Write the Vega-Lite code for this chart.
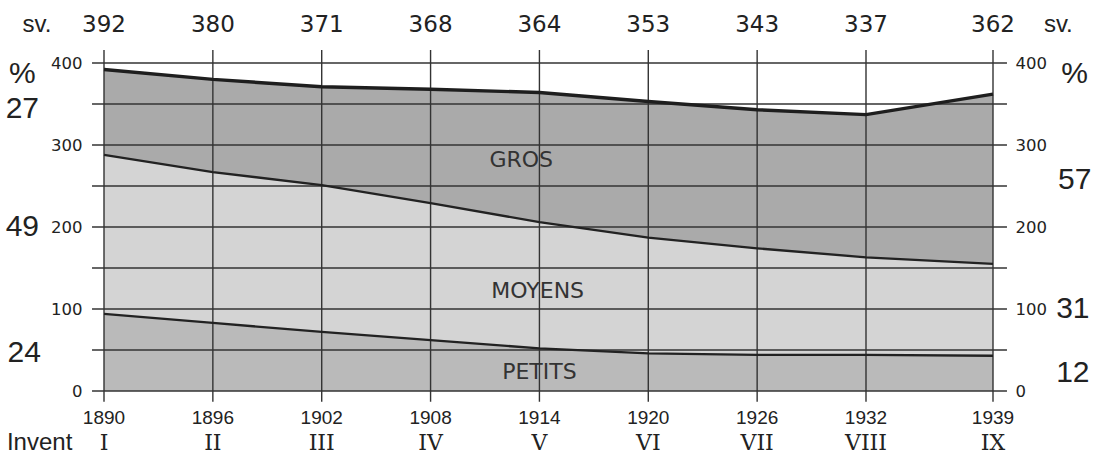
{
  "$schema": "https://vega.github.io/schema/vega-lite/v6.json",
  "width": 889,
  "height": 328,
  "autosize": {"type": "none"},
  "padding": {"left": 104, "top": 63, "right": 102, "bottom": 68},
  "background": "#ffffff",
  "config": {
    "view": {"stroke": null},
    "axis": {"domain": false, "ticks": false, "grid": false, "labelFont": "DejaVu Sans", "labelColor": "#222222", "labelFontSize": 16.5, "title": null},
    "text": {"font": "Liberation Sans", "color": "#222222"}
  },
  "datasets": {
    "inv": [
      {"year": 1890, "roman": "I", "petits": 94, "petits_moyens": 288, "total": 392},
      {"year": 1896, "roman": "II", "petits": 83, "petits_moyens": 267, "total": 380},
      {"year": 1902, "roman": "III", "petits": 72, "petits_moyens": 251, "total": 371},
      {"year": 1908, "roman": "IV", "petits": 62, "petits_moyens": 229, "total": 368},
      {"year": 1914, "roman": "V", "petits": 52, "petits_moyens": 206, "total": 364},
      {"year": 1920, "roman": "VI", "petits": 46, "petits_moyens": 187, "total": 353},
      {"year": 1926, "roman": "VII", "petits": 44, "petits_moyens": 174, "total": 343},
      {"year": 1932, "roman": "VIII", "petits": 44, "petits_moyens": 163, "total": 337},
      {"year": 1939, "roman": "IX", "petits": 43, "petits_moyens": 155, "total": 362}
    ],
    "hgrid": [{"v": 0}, {"v": 50}, {"v": 100}, {"v": 150}, {"v": 200}, {"v": 250}, {"v": 300}, {"v": 350}, {"v": 400}],
    "pcts": [
      {"label": "%", "year": 1885.5, "value": 386},
      {"label": "27", "year": 1885.5, "value": 344},
      {"label": "49", "year": 1885.5, "value": 200},
      {"label": "24", "year": 1885.6, "value": 46},
      {"label": "%", "year": 1943.5, "value": 386},
      {"label": "57", "year": 1943.5, "value": 257},
      {"label": "31", "year": 1943.4, "value": 100},
      {"label": "12", "year": 1943.4, "value": 22}
    ],
    "zones": [
      {"label": "GROS", "year": 1913.0, "value": 282},
      {"label": "MOYENS", "year": 1913.9, "value": 122},
      {"label": "PETITS", "year": 1914.0, "value": 23}
    ],
    "sv": [
      {"label": "sv.", "year": 1886.3, "value": 437.8},
      {"label": "sv.", "year": 1942.6, "value": 437.8}
    ],
    "invent": [{"label": "Invent", "year": 1884.65, "value": -63.4}]
  },
  "layer": [
    {
      "data": {"name": "inv"},
      "mark": {"type": "area", "color": "#aaaaaa"},
      "encoding": {
        "x": {"field": "year", "type": "quantitative", "scale": {"domain": [1890, 1939], "nice": false, "zero": false}, "axis": null},
        "y": {"field": "total", "type": "quantitative", "scale": {"domain": [0, 400], "nice": false, "zero": false},
              "axis": {"orient": "left", "values": [0, 100, 200, 300, 400], "labelPadding": 22}},
        "y2": {"field": "petits_moyens"}
      }
    },
    {
      "data": {"name": "inv"},
      "mark": {"type": "area", "color": "#d4d4d4"},
      "encoding": {
        "x": {"field": "year", "type": "quantitative", "scale": {"domain": [1890, 1939], "nice": false, "zero": false}, "axis": null},
        "y": {"field": "petits_moyens", "type": "quantitative", "scale": {"domain": [0, 400], "nice": false, "zero": false}, "axis": null},
        "y2": {"field": "petits"}
      }
    },
    {
      "data": {"name": "inv"},
      "mark": {"type": "area", "color": "#bababa"},
      "encoding": {
        "x": {"field": "year", "type": "quantitative", "scale": {"domain": [1890, 1939], "nice": false, "zero": false}, "axis": null},
        "y": {"field": "petits", "type": "quantitative", "scale": {"domain": [0, 400], "nice": false, "zero": false}, "axis": null},
        "y2": {"datum": 0}
      }
    },
    {
      "data": {"name": "hgrid"},
      "mark": {"type": "rule", "color": "#333333", "strokeWidth": 1.4},
      "encoding": {
        "y": {"field": "v", "type": "quantitative", "scale": {"domain": [0, 400], "nice": false, "zero": false}, "axis": null},
        "x": {"datum": 1889.34, "type": "quantitative", "axis": null},
        "x2": {"datum": 1939.77}
      }
    },
    {
      "data": {"name": "inv"},
      "mark": {"type": "rule", "color": "#333333", "strokeWidth": 1.4},
      "encoding": {
        "x": {"field": "year", "type": "quantitative", "scale": {"domain": [1890, 1939], "nice": false, "zero": false}, "axis": null},
        "y": {"datum": -13, "type": "quantitative", "axis": null},
        "y2": {"datum": 416}
      }
    },
    {
      "data": {"name": "inv"},
      "mark": {"type": "line", "color": "#222222", "strokeWidth": 2.3},
      "encoding": {
        "x": {"field": "year", "type": "quantitative", "scale": {"domain": [1890, 1939], "nice": false, "zero": false}, "axis": null},
        "y": {"field": "petits", "type": "quantitative", "scale": {"domain": [0, 400], "nice": false, "zero": false}, "axis": null}
      }
    },
    {
      "data": {"name": "inv"},
      "mark": {"type": "line", "color": "#222222", "strokeWidth": 2.3},
      "encoding": {
        "x": {"field": "year", "type": "quantitative", "scale": {"domain": [1890, 1939], "nice": false, "zero": false}, "axis": null},
        "y": {"field": "petits_moyens", "type": "quantitative", "scale": {"domain": [0, 400], "nice": false, "zero": false}, "axis": null}
      }
    },
    {
      "data": {"name": "inv"},
      "mark": {"type": "line", "color": "#1e1e1e", "strokeWidth": 3.4},
      "encoding": {
        "x": {"field": "year", "type": "quantitative", "scale": {"domain": [1890, 1939], "nice": false, "zero": false}, "axis": null},
        "y": {"field": "total", "type": "quantitative", "scale": {"domain": [0, 400], "nice": false, "zero": false},
              "axis": {"orient": "right", "values": [0, 100, 200, 300, 400], "labelPadding": 22}}
      }
    },
    {
      "data": {"name": "inv"},
      "mark": {"type": "text", "fontSize": 23, "font": "DejaVu Sans", "baseline": "alphabetic", "align": "center"},
      "encoding": {
        "x": {"field": "year", "type": "quantitative", "axis": null},
        "y": {"datum": 437.8, "type": "quantitative", "axis": null},
        "text": {"field": "total"}
      }
    },
    {
      "data": {"name": "inv"},
      "mark": {"type": "text", "fontSize": 19, "font": "Liberation Sans", "baseline": "middle", "align": "center"},
      "encoding": {
        "x": {"field": "year", "type": "quantitative", "axis": null},
        "y": {"datum": -33, "type": "quantitative", "axis": null},
        "text": {"field": "year", "type": "quantitative", "format": "d"}
      }
    },
    {
      "data": {"name": "inv"},
      "mark": {"type": "text", "fontSize": 22, "font": "DejaVu Serif", "baseline": "middle", "align": "center"},
      "encoding": {
        "x": {"field": "year", "type": "quantitative", "axis": null},
        "y": {"datum": -63.4, "type": "quantitative", "axis": null},
        "text": {"field": "roman"}
      }
    },
    {
      "data": {"name": "pcts"},
      "mark": {"type": "text", "fontSize": 30, "baseline": "middle", "align": "center"},
      "encoding": {
        "x": {"field": "year", "type": "quantitative", "axis": null},
        "y": {"field": "value", "type": "quantitative", "axis": null},
        "text": {"field": "label"}
      }
    },
    {
      "data": {"name": "zones"},
      "mark": {"type": "text", "fontSize": 22, "font": "DejaVu Sans", "baseline": "middle", "align": "center", "color": "#333333"},
      "encoding": {
        "x": {"field": "year", "type": "quantitative", "axis": null},
        "y": {"field": "value", "type": "quantitative", "axis": null},
        "text": {"field": "label"}
      }
    },
    {
      "data": {"name": "sv"},
      "mark": {"type": "text", "fontSize": 24, "baseline": "alphabetic", "align": "center"},
      "encoding": {
        "x": {"field": "year", "type": "quantitative", "axis": null},
        "y": {"field": "value", "type": "quantitative", "axis": null},
        "text": {"field": "label"}
      }
    },
    {
      "data": {"name": "invent"},
      "mark": {"type": "text", "fontSize": 24, "baseline": "middle", "align": "left"},
      "encoding": {
        "x": {"field": "year", "type": "quantitative", "axis": null},
        "y": {"field": "value", "type": "quantitative", "axis": null},
        "text": {"field": "label"}
      }
    }
  ],
  "resolve": {"axis": {"x": "independent", "y": "independent"}}
}
